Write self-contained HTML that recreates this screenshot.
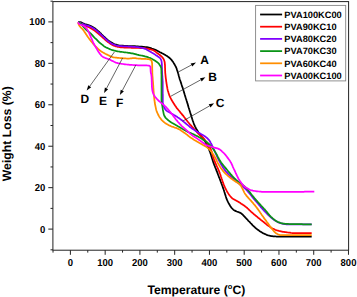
<!DOCTYPE html>
<html><head><meta charset="utf-8"><title>TGA</title>
<style>html,body{margin:0;padding:0;background:#fff}svg{display:block}text{text-rendering:geometricPrecision;font-family:"Liberation Sans",Arial,Helvetica,sans-serif;font-weight:bold;fill:#000}</style></head><body>
<svg width="357" height="297" viewBox="0 0 357 297">
<rect width="357" height="297" fill="#fff"/>
<g fill="none" stroke-width="1.75" stroke-linejoin="round" stroke-linecap="butt">
<path stroke="#000000" d="M78.1,22.0 L79.1,22.1 L80.1,22.2 L81.1,22.4 L82.0,22.8 L82.9,23.2 L83.8,23.7 L84.7,24.0 L85.7,24.3 L86.7,24.6 L87.6,24.9 L88.6,25.1 L89.5,25.5 L90.4,25.9 L91.3,26.3 L92.2,26.8 L93.1,27.3 L93.9,27.8 L94.8,28.3 L95.6,28.9 L96.4,29.6 L97.1,30.2 L97.9,30.9 L98.7,31.5 L99.4,32.2 L100.1,32.9 L100.9,33.5 L101.6,34.3 L102.3,35.0 L103.0,35.7 L103.7,36.4 L104.5,37.0 L105.2,37.7 L105.9,38.4 L106.7,39.1 L107.4,39.7 L108.2,40.4 L109.0,41.0 L109.8,41.5 L110.6,42.1 L111.5,42.6 L112.4,43.1 L113.3,43.6 L114.2,44.0 L115.1,44.3 L116.1,44.6 L117.0,44.9 L118.0,45.2 L119.0,45.4 L120.0,45.5 L121.0,45.6 L122.0,45.7 L123.0,45.7 L124.0,45.8 L125.0,45.9 L126.0,45.9 L127.0,45.9 L128.0,46.0 L129.0,46.0 L130.0,46.0 L131.0,46.1 L132.0,46.1 L133.0,46.1 L134.0,46.2 L135.0,46.2 L136.0,46.3 L137.0,46.3 L138.0,46.4 L139.0,46.5 L140.0,46.5 L141.0,46.6 L142.0,46.7 L143.0,46.8 L144.0,46.9 L145.0,47.0 L145.9,47.1 L146.9,47.2 L147.9,47.4 L148.9,47.6 L149.8,47.8 L150.8,48.1 L151.8,48.5 L152.7,48.8 L153.6,49.2 L154.6,49.5 L155.5,49.9 L156.4,50.3 L157.3,50.7 L158.2,51.2 L159.1,51.7 L160.0,52.2 L160.8,52.6 L161.7,53.1 L162.6,53.5 L163.5,54.0 L164.4,54.5 L165.3,55.0 L166.1,55.5 L167.0,56.0 L167.8,56.6 L168.6,57.2 L169.4,57.8 L170.2,58.5 L170.8,59.2 L171.5,59.9 L172.1,60.7 L172.7,61.5 L173.3,62.3 L173.8,63.2 L174.3,64.0 L174.8,64.9 L175.3,65.8 L175.8,66.7 L176.2,67.6 L176.6,68.5 L176.9,69.5 L177.2,70.4 L177.5,71.3 L177.8,72.3 L178.1,73.3 L178.4,74.2 L178.6,75.2 L178.9,76.2 L179.2,77.1 L179.4,78.1 L179.7,79.1 L180.0,80.0 L180.4,81.0 L180.7,81.9 L181.0,82.9 L181.3,83.8 L181.6,84.8 L181.9,85.7 L182.2,86.7 L182.6,87.6 L182.9,88.6 L183.2,89.5 L183.5,90.5 L183.8,91.4 L184.0,92.4 L184.3,93.3 L184.6,94.3 L184.9,95.2 L185.2,96.2 L185.5,97.2 L185.8,98.1 L186.1,99.1 L186.4,100.0 L186.7,101.0 L187.0,101.9 L187.3,102.9 L187.6,103.9 L187.9,104.8 L188.1,105.8 L188.4,106.7 L188.7,107.7 L189.0,108.6 L189.3,109.6 L189.6,110.5 L189.9,111.5 L190.2,112.5 L190.5,113.4 L190.8,114.4 L191.1,115.3 L191.4,116.3 L191.7,117.2 L192.0,118.2 L192.3,119.2 L192.6,120.1 L192.9,121.1 L193.3,122.0 L193.6,123.0 L193.9,123.9 L194.3,124.8 L194.7,125.7 L195.1,126.6 L195.6,127.5 L196.0,128.4 L196.5,129.3 L197.0,130.1 L197.6,131.0 L198.1,131.8 L198.6,132.7 L199.2,133.5 L199.8,134.3 L200.4,135.1 L201.1,135.9 L201.7,136.7 L202.3,137.4 L202.9,138.2 L203.5,139.0 L204.1,139.9 L204.6,140.7 L205.1,141.6 L205.6,142.4 L206.1,143.3 L206.5,144.2 L207.0,145.1 L207.5,146.0 L207.9,146.9 L208.3,147.8 L208.7,148.7 L209.1,149.7 L209.5,150.6 L209.8,151.5 L210.2,152.4 L210.5,153.4 L210.8,154.3 L211.1,155.3 L211.4,156.2 L211.7,157.2 L212.0,158.2 L212.3,159.1 L212.6,160.1 L212.9,161.0 L213.2,162.0 L213.5,162.9 L213.9,163.9 L214.2,164.8 L214.6,165.7 L215.0,166.7 L215.3,167.6 L215.7,168.5 L216.1,169.4 L216.4,170.4 L216.8,171.3 L217.2,172.2 L217.5,173.2 L217.9,174.1 L218.2,175.0 L218.6,176.0 L218.9,176.9 L219.3,177.8 L219.7,178.8 L220.0,179.7 L220.4,180.6 L220.7,181.6 L221.1,182.5 L221.4,183.5 L221.8,184.4 L222.1,185.3 L222.5,186.3 L222.8,187.2 L223.1,188.2 L223.5,189.1 L223.8,190.1 L224.1,191.0 L224.4,192.0 L224.7,192.9 L225.0,193.9 L225.3,194.9 L225.6,195.8 L225.9,196.8 L226.2,197.7 L226.5,198.7 L226.9,199.6 L227.3,200.5 L227.7,201.4 L228.2,202.3 L228.6,203.2 L229.1,204.1 L229.7,205.0 L230.2,205.9 L230.8,206.8 L231.4,207.6 L232.0,208.3 L232.7,209.0 L233.3,209.6 L234.1,210.2 L234.9,210.6 L235.9,211.1 L236.8,211.5 L237.8,211.8 L238.8,212.2 L239.7,212.6 L240.6,213.1 L241.4,213.6 L242.2,214.2 L242.9,214.9 L243.6,215.6 L244.3,216.4 L245.0,217.1 L245.7,217.9 L246.4,218.6 L247.1,219.3 L247.7,220.0 L248.4,220.8 L249.1,221.5 L249.8,222.2 L250.5,223.0 L251.2,223.7 L251.9,224.4 L252.5,225.1 L253.3,225.9 L254.0,226.5 L254.7,227.2 L255.4,227.9 L256.2,228.5 L257.0,229.1 L257.8,229.8 L258.6,230.3 L259.4,230.9 L260.3,231.5 L261.1,232.0 L262.0,232.6 L262.8,233.1 L263.7,233.5 L264.6,233.9 L265.5,234.3 L266.5,234.8 L267.4,235.1 L268.4,235.5 L269.3,235.7 L270.3,235.9 L271.3,236.1 L272.2,236.2 L273.2,236.3 L274.2,236.3 L275.2,236.4 L276.2,236.5 L277.2,236.5 L278.2,236.6 L279.2,236.6 L280.2,236.7 L281.2,236.7 L282.2,236.7 L283.2,236.7 L284.2,236.7 L285.2,236.7 L286.2,236.7 L287.2,236.7 L288.2,236.7 L289.2,236.7 L290.2,236.7 L291.2,236.7 L292.2,236.7 L293.2,236.7 L294.2,236.7 L295.2,236.7 L296.2,236.7 L297.2,236.7 L298.2,236.7 L299.2,236.7 L300.2,236.7 L301.2,236.7 L302.2,236.7 L303.2,236.7 L304.2,236.7 L305.2,236.7 L306.2,236.7 L307.2,236.7 L308.2,236.7 L309.2,236.7 L310.2,236.7 L311.2,236.7 L311.7,236.7"/>
<path stroke="#ff0000" d="M78.1,22.2 L79.0,22.7 L79.8,23.2 L80.7,23.7 L81.6,24.1 L82.5,24.6 L83.4,25.0 L84.3,25.4 L85.2,25.8 L86.2,26.2 L87.1,26.5 L88.0,26.9 L89.0,27.3 L89.8,27.7 L90.7,28.2 L91.6,28.7 L92.5,29.2 L93.3,29.8 L94.1,30.3 L94.9,30.9 L95.7,31.5 L96.5,32.1 L97.3,32.8 L98.0,33.4 L98.8,34.1 L99.6,34.7 L100.3,35.4 L101.1,36.1 L101.8,36.7 L102.5,37.4 L103.3,38.1 L104.0,38.7 L104.8,39.4 L105.5,40.1 L106.3,40.7 L107.1,41.3 L107.9,42.0 L108.7,42.6 L109.5,43.1 L110.3,43.7 L111.2,44.2 L112.0,44.7 L112.9,45.2 L113.8,45.6 L114.8,46.0 L115.7,46.3 L116.7,46.5 L117.6,46.8 L118.6,47.0 L119.6,47.2 L120.6,47.3 L121.6,47.3 L122.6,47.4 L123.6,47.5 L124.6,47.5 L125.6,47.6 L126.6,47.6 L127.6,47.7 L128.6,47.7 L129.6,47.7 L130.6,47.7 L131.6,47.8 L132.6,47.8 L133.6,47.8 L134.6,47.8 L135.6,47.9 L136.6,47.9 L137.6,47.9 L138.6,47.9 L139.6,48.0 L140.6,48.0 L141.6,48.1 L142.6,48.2 L143.6,48.2 L144.6,48.3 L145.6,48.4 L146.6,48.5 L147.6,48.7 L148.6,48.9 L149.6,49.1 L150.5,49.3 L151.5,49.6 L152.4,49.9 L153.3,50.3 L154.2,50.8 L155.0,51.3 L155.8,51.9 L156.6,52.6 L157.4,53.2 L158.2,53.8 L159.0,54.4 L159.8,55.0 L160.6,55.7 L161.4,56.3 L162.1,57.0 L162.7,57.8 L163.3,58.6 L163.8,59.5 L164.2,60.4 L164.5,61.4 L164.7,62.3 L164.8,63.4 L164.9,64.4 L165.0,65.4 L165.0,66.4 L165.0,67.4 L165.1,68.4 L165.1,69.4 L165.1,70.4 L165.2,71.4 L165.2,72.4 L165.3,73.3 L165.4,74.3 L165.5,75.3 L165.6,76.3 L165.7,77.3 L165.8,78.3 L166.0,79.3 L166.1,80.3 L166.2,81.3 L166.4,82.3 L166.5,83.3 L166.7,84.3 L166.8,85.3 L167.0,86.3 L167.2,87.2 L167.3,88.2 L167.5,89.2 L167.7,90.2 L168.0,91.1 L168.3,92.1 L168.6,93.1 L168.9,94.0 L169.2,94.9 L169.6,95.9 L170.0,96.8 L170.4,97.7 L170.9,98.6 L171.3,99.5 L171.8,100.3 L172.3,101.2 L172.8,102.1 L173.4,102.9 L173.9,103.8 L174.5,104.6 L175.0,105.5 L175.6,106.3 L176.1,107.1 L176.7,107.9 L177.3,108.7 L178.0,109.5 L178.6,110.2 L179.3,111.0 L179.9,111.8 L180.5,112.6 L181.2,113.3 L181.8,114.1 L182.4,114.9 L183.1,115.7 L183.7,116.4 L184.3,117.2 L184.9,118.0 L185.5,118.8 L186.2,119.6 L186.8,120.4 L187.4,121.2 L188.0,122.0 L188.6,122.7 L189.3,123.5 L189.9,124.3 L190.6,125.0 L191.3,125.7 L191.9,126.5 L192.6,127.2 L193.3,128.0 L193.9,128.7 L194.6,129.5 L195.3,130.2 L195.9,131.0 L196.6,131.7 L197.2,132.5 L197.9,133.2 L198.6,133.9 L199.4,134.6 L200.1,135.3 L200.9,135.9 L201.6,136.6 L202.4,137.2 L203.1,137.9 L203.8,138.7 L204.4,139.4 L205.0,140.2 L205.7,141.0 L206.3,141.8 L206.9,142.6 L207.5,143.4 L208.1,144.2 L208.6,145.1 L209.2,146.0 L209.7,146.8 L210.1,147.7 L210.5,148.6 L210.9,149.5 L211.2,150.4 L211.6,151.3 L211.9,152.3 L212.2,153.2 L212.5,154.2 L212.7,155.2 L213.0,156.2 L213.3,157.1 L213.6,158.1 L213.9,159.1 L214.2,160.0 L214.6,160.9 L214.9,161.9 L215.3,162.8 L215.7,163.7 L216.1,164.6 L216.5,165.5 L216.9,166.4 L217.4,167.4 L217.8,168.3 L218.2,169.2 L218.6,170.1 L219.0,171.0 L219.3,171.9 L219.7,172.9 L220.0,173.8 L220.4,174.8 L220.7,175.7 L221.0,176.7 L221.3,177.6 L221.6,178.6 L222.0,179.5 L222.3,180.5 L222.6,181.4 L222.9,182.4 L223.3,183.3 L223.6,184.3 L224.0,185.2 L224.4,186.1 L224.8,187.0 L225.2,187.9 L225.7,188.8 L226.1,189.7 L226.6,190.7 L227.1,191.6 L227.6,192.5 L228.2,193.3 L228.7,194.2 L229.3,195.0 L229.9,195.8 L230.5,196.5 L231.1,197.2 L231.8,197.9 L232.5,198.5 L233.3,199.0 L234.2,199.5 L235.1,200.0 L236.0,200.5 L236.9,201.0 L237.8,201.5 L238.7,202.0 L239.5,202.6 L240.4,203.1 L241.2,203.7 L242.1,204.2 L242.9,204.8 L243.7,205.3 L244.5,205.9 L245.3,206.5 L246.1,207.1 L246.9,207.7 L247.6,208.4 L248.4,209.1 L249.1,209.8 L249.8,210.5 L250.5,211.2 L251.2,211.9 L252.0,212.5 L252.8,213.2 L253.5,213.8 L254.3,214.5 L255.1,215.1 L255.8,215.8 L256.6,216.4 L257.4,217.0 L258.1,217.7 L258.9,218.3 L259.7,218.9 L260.5,219.6 L261.3,220.2 L262.0,220.8 L262.8,221.4 L263.6,222.0 L264.4,222.7 L265.2,223.3 L265.9,223.9 L266.7,224.6 L267.5,225.2 L268.3,225.7 L269.2,226.3 L270.0,226.9 L270.8,227.4 L271.7,228.0 L272.5,228.5 L273.4,228.9 L274.3,229.3 L275.2,229.7 L276.2,230.1 L277.1,230.4 L278.1,230.7 L279.1,231.0 L280.0,231.2 L281.0,231.4 L282.0,231.6 L283.0,231.8 L284.0,231.9 L285.0,232.1 L286.0,232.2 L286.9,232.3 L287.9,232.5 L288.9,232.6 L289.9,232.7 L290.9,232.9 L291.9,233.0 L292.9,233.0 L293.9,233.1 L294.9,233.1 L295.9,233.1 L296.9,233.1 L297.9,233.1 L298.9,233.1 L299.9,233.1 L300.9,233.1 L301.9,233.1 L302.9,233.1 L303.9,233.1 L304.9,233.1 L305.9,233.1 L306.9,233.1 L307.9,233.1 L308.9,233.1 L309.9,233.1 L310.9,233.1 L311.7,233.1"/>
<path stroke="#8000ff" d="M78.1,22.0 L79.0,22.4 L79.9,22.8 L80.8,23.2 L81.8,23.6 L82.7,24.0 L83.6,24.4 L84.6,24.7 L85.5,25.0 L86.5,25.3 L87.4,25.6 L88.4,25.9 L89.3,26.2 L90.2,26.6 L91.1,27.1 L92.0,27.6 L92.9,28.1 L93.7,28.6 L94.6,29.1 L95.4,29.7 L96.2,30.3 L96.9,30.9 L97.7,31.6 L98.5,32.3 L99.2,32.9 L100.0,33.6 L100.7,34.3 L101.4,35.0 L102.1,35.7 L102.9,36.3 L103.6,37.0 L104.3,37.7 L105.1,38.4 L105.8,39.1 L106.5,39.8 L107.3,40.4 L108.1,41.1 L108.8,41.7 L109.7,42.2 L110.5,42.8 L111.3,43.4 L112.2,43.9 L113.1,44.3 L114.0,44.7 L115.0,45.0 L115.9,45.3 L116.9,45.6 L117.9,45.8 L118.9,46.0 L119.9,46.1 L120.8,46.2 L121.8,46.2 L122.8,46.3 L123.8,46.3 L124.8,46.3 L125.8,46.4 L126.8,46.4 L127.8,46.5 L128.8,46.5 L129.8,46.6 L130.8,46.6 L131.8,46.7 L132.8,46.8 L133.8,46.8 L134.8,46.9 L135.8,47.0 L136.8,47.1 L137.8,47.2 L138.8,47.3 L139.8,47.5 L140.8,47.7 L141.8,47.9 L142.8,48.1 L143.7,48.4 L144.7,48.7 L145.6,49.0 L146.5,49.4 L147.3,49.9 L148.2,50.4 L149.1,51.0 L149.9,51.5 L150.8,52.0 L151.7,52.6 L152.5,53.1 L153.4,53.6 L154.2,54.1 L155.1,54.6 L155.9,55.2 L156.8,55.7 L157.6,56.3 L158.5,56.9 L159.3,57.5 L160.1,58.1 L160.6,58.9 L161.0,59.7 L161.4,60.7 L161.6,61.7 L161.7,62.7 L161.8,63.7 L161.9,64.7 L161.9,65.7 L161.9,66.7 L162.0,67.7 L162.0,68.7 L162.0,69.7 L162.0,70.7 L162.1,71.7 L162.1,72.7 L162.2,73.7 L162.2,74.7 L162.3,75.7 L162.4,76.7 L162.4,77.7 L162.5,78.7 L162.6,79.7 L162.6,80.7 L162.7,81.7 L162.7,82.7 L162.7,83.7 L162.7,84.7 L162.7,85.7 L162.7,86.7 L162.7,87.7 L162.7,88.7 L162.7,89.7 L162.7,90.7 L162.7,91.7 L162.7,92.7 L162.7,93.7 L162.8,94.7 L162.8,95.7 L162.8,96.7 L162.8,97.7 L162.8,98.7 L162.8,99.7 L162.8,100.7 L162.8,101.7 L162.9,102.7 L163.1,103.7 L163.3,104.8 L163.6,105.8 L164.0,106.8 L164.4,107.7 L164.8,108.5 L165.2,109.3 L165.8,110.0 L166.5,110.6 L167.3,111.2 L168.3,111.8 L169.2,112.3 L170.1,112.8 L170.9,113.4 L171.8,113.8 L172.7,114.3 L173.6,114.8 L174.5,115.2 L175.3,115.7 L176.2,116.3 L177.0,116.8 L177.8,117.4 L178.7,117.9 L179.5,118.5 L180.3,119.1 L181.1,119.7 L181.9,120.3 L182.7,120.9 L183.5,121.6 L184.2,122.2 L185.0,122.8 L185.8,123.5 L186.5,124.1 L187.3,124.7 L188.1,125.4 L188.9,126.0 L189.6,126.7 L190.4,127.3 L191.2,127.9 L192.0,128.5 L192.8,129.1 L193.6,129.6 L194.5,130.1 L195.4,130.7 L196.2,131.2 L197.1,131.7 L197.9,132.2 L198.8,132.7 L199.7,133.2 L200.6,133.7 L201.4,134.2 L202.3,134.7 L203.1,135.2 L204.0,135.8 L204.8,136.3 L205.6,136.9 L206.4,137.5 L207.2,138.2 L207.9,138.9 L208.6,139.6 L209.2,140.3 L209.7,141.1 L210.3,142.0 L210.7,142.8 L211.2,143.7 L211.7,144.7 L212.1,145.6 L212.5,146.5 L213.0,147.4 L213.4,148.3 L213.9,149.2 L214.3,150.1 L214.7,151.0 L215.1,152.0 L215.5,152.9 L215.9,153.8 L216.3,154.7 L216.7,155.6 L217.1,156.6 L217.5,157.5 L217.9,158.4 L218.4,159.3 L218.8,160.1 L219.3,161.0 L219.8,161.9 L220.3,162.8 L220.7,163.7 L221.2,164.6 L221.8,165.4 L222.3,166.3 L222.8,167.2 L223.3,168.0 L223.9,168.8 L224.5,169.6 L225.1,170.4 L225.7,171.2 L226.3,171.9 L227.0,172.7 L227.6,173.4 L228.3,174.1 L229.0,174.8 L229.8,175.5 L230.5,176.2 L231.2,176.9 L232.0,177.6 L232.8,178.2 L233.5,178.9 L234.3,179.6 L235.0,180.3 L235.8,180.9 L236.5,181.6 L237.3,182.2 L238.1,182.8 L238.9,183.5 L239.6,184.1 L240.4,184.7 L241.2,185.3 L242.0,185.9 L242.8,186.6 L243.6,187.2 L244.3,187.9 L245.0,188.5 L245.7,189.2 L246.4,189.9 L247.1,190.7 L247.8,191.4 L248.4,192.2 L249.1,192.9 L249.7,193.7 L250.4,194.5 L251.0,195.2 L251.6,196.0 L252.2,196.8 L252.9,197.6 L253.5,198.4 L254.1,199.2 L254.8,199.9 L255.4,200.7 L256.1,201.5 L256.7,202.2 L257.4,203.0 L258.0,203.7 L258.7,204.5 L259.3,205.3 L260.0,206.0 L260.6,206.8 L261.3,207.6 L261.9,208.3 L262.6,209.1 L263.3,209.8 L263.9,210.5 L264.6,211.3 L265.3,212.0 L266.0,212.7 L266.7,213.4 L267.4,214.1 L268.1,214.8 L268.8,215.5 L269.6,216.2 L270.3,216.9 L271.1,217.6 L271.9,218.2 L272.6,218.8 L273.4,219.4 L274.3,219.9 L275.1,220.5 L276.0,221.1 L276.8,221.6 L277.7,222.1 L278.6,222.5 L279.6,222.9 L280.5,223.1 L281.4,223.4 L282.4,223.6 L283.4,223.9 L284.4,224.1 L285.4,224.2 L286.4,224.3 L287.4,224.3 L288.4,224.3 L289.4,224.3 L290.4,224.3 L291.4,224.3 L292.4,224.3 L293.3,224.3 L294.3,224.3 L295.3,224.3 L296.3,224.3 L297.3,224.3 L298.3,224.3 L299.3,224.3 L300.3,224.3 L301.3,224.3 L302.3,224.3 L303.3,224.3 L304.3,224.3 L305.3,224.3 L306.3,224.3 L307.4,224.3 L308.4,224.3 L309.4,224.3 L310.4,224.3 L311.4,224.3 L311.7,224.3"/>
<path stroke="#0a9416" d="M78.1,22.2 L79.0,22.6 L79.9,23.1 L80.7,23.7 L81.5,24.3 L82.1,25.1 L82.7,25.9 L83.3,26.7 L83.9,27.5 L84.6,28.2 L85.3,28.9 L86.0,29.6 L86.8,30.3 L87.5,31.0 L88.3,31.6 L89.1,32.2 L89.9,32.8 L90.6,33.5 L91.4,34.2 L92.0,34.9 L92.7,35.7 L93.3,36.4 L94.0,37.2 L94.7,37.9 L95.5,38.6 L96.2,39.2 L96.9,39.9 L97.6,40.6 L98.3,41.4 L99.0,42.1 L99.7,42.8 L100.5,43.4 L101.3,44.0 L102.1,44.6 L102.9,45.2 L103.6,45.9 L104.4,46.5 L105.3,47.0 L106.2,47.5 L107.1,47.9 L108.0,48.3 L108.9,48.7 L109.8,49.1 L110.8,49.5 L111.7,49.8 L112.7,50.1 L113.6,50.4 L114.6,50.6 L115.6,50.9 L116.5,51.1 L117.5,51.3 L118.5,51.5 L119.5,51.6 L120.5,51.8 L121.5,51.9 L122.5,52.0 L123.5,52.2 L124.5,52.3 L125.4,52.4 L126.4,52.5 L127.4,52.6 L128.4,52.8 L129.4,52.9 L130.4,53.1 L131.4,53.3 L132.4,53.4 L133.4,53.6 L134.3,53.8 L135.3,54.1 L136.3,54.4 L137.2,54.7 L138.2,54.9 L139.1,55.2 L140.1,55.3 L141.1,55.5 L142.1,55.7 L143.1,55.9 L144.1,56.1 L145.0,56.4 L146.0,56.6 L147.0,56.9 L147.9,57.2 L148.8,57.6 L149.8,57.9 L150.7,58.3 L151.6,58.7 L152.5,59.2 L153.4,59.7 L154.3,60.2 L155.1,60.7 L155.9,61.3 L156.8,61.9 L157.6,62.5 L158.3,63.2 L159.0,63.9 L159.5,64.7 L160.1,65.6 L160.6,66.5 L161.0,67.4 L161.3,68.4 L161.3,69.3 L161.4,70.3 L161.4,71.3 L161.4,72.3 L161.4,73.3 L161.5,74.3 L161.5,75.3 L161.5,76.3 L161.5,77.3 L161.5,78.3 L161.5,79.3 L161.5,80.3 L161.5,81.3 L161.5,82.3 L161.5,83.4 L161.5,84.4 L161.5,85.4 L161.5,86.4 L161.5,87.4 L161.5,88.4 L161.5,89.4 L161.5,90.4 L161.5,91.4 L161.5,92.4 L161.5,93.4 L161.5,94.4 L161.5,95.4 L161.5,96.4 L161.5,97.4 L161.5,98.4 L161.5,99.4 L161.5,100.3 L161.6,101.3 L161.7,102.3 L161.9,103.3 L162.0,104.3 L162.2,105.3 L162.4,106.3 L162.5,107.3 L162.7,108.3 L162.8,109.4 L163.0,110.4 L163.2,111.4 L163.4,112.4 L163.6,113.4 L163.8,114.3 L164.1,115.2 L164.5,116.0 L164.9,116.8 L165.5,117.6 L166.2,118.4 L167.0,119.1 L167.8,119.8 L168.6,120.5 L169.4,121.1 L170.2,121.7 L171.0,122.3 L171.8,122.8 L172.7,123.3 L173.6,123.8 L174.5,124.3 L175.4,124.8 L176.2,125.3 L177.1,125.8 L177.9,126.3 L178.8,126.8 L179.7,127.3 L180.5,127.8 L181.4,128.3 L182.2,128.8 L183.1,129.3 L184.0,129.8 L184.8,130.3 L185.7,130.8 L186.6,131.3 L187.5,131.7 L188.4,132.1 L189.3,132.5 L190.3,132.9 L191.2,133.3 L192.1,133.7 L193.0,134.1 L193.9,134.5 L194.8,134.9 L195.7,135.4 L196.6,135.9 L197.5,136.3 L198.4,136.8 L199.2,137.3 L200.1,137.8 L201.0,138.3 L201.8,138.8 L202.7,139.4 L203.5,139.9 L204.3,140.5 L205.1,141.1 L206.0,141.6 L206.8,142.2 L207.6,142.8 L208.4,143.5 L209.2,144.1 L209.9,144.8 L210.6,145.5 L211.2,146.2 L211.8,147.0 L212.4,147.8 L213.0,148.6 L213.5,149.5 L214.1,150.3 L214.6,151.2 L215.2,152.0 L215.7,152.9 L216.2,153.7 L216.7,154.6 L217.2,155.5 L217.6,156.4 L218.1,157.3 L218.6,158.2 L219.0,159.0 L219.5,159.9 L220.0,160.8 L220.6,161.6 L221.1,162.4 L221.7,163.2 L222.3,164.0 L222.9,164.8 L223.5,165.6 L224.2,166.4 L224.8,167.2 L225.5,167.9 L226.1,168.7 L226.8,169.5 L227.4,170.2 L228.0,171.0 L228.7,171.8 L229.3,172.5 L230.0,173.3 L230.6,174.1 L231.3,174.8 L231.9,175.6 L232.6,176.3 L233.3,177.1 L234.0,177.8 L234.7,178.5 L235.4,179.2 L236.1,179.9 L236.9,180.5 L237.7,181.1 L238.4,181.7 L239.3,182.3 L240.1,182.9 L240.9,183.5 L241.7,184.1 L242.5,184.7 L243.3,185.4 L244.1,186.0 L244.8,186.6 L245.5,187.3 L246.2,188.0 L246.9,188.7 L247.6,189.5 L248.2,190.2 L248.8,191.0 L249.5,191.8 L250.1,192.6 L250.7,193.4 L251.3,194.2 L251.9,195.0 L252.6,195.8 L253.2,196.5 L253.8,197.3 L254.4,198.1 L255.1,198.9 L255.7,199.6 L256.4,200.4 L257.1,201.1 L257.7,201.9 L258.4,202.6 L259.1,203.4 L259.8,204.1 L260.4,204.8 L261.1,205.6 L261.8,206.3 L262.5,207.0 L263.2,207.8 L263.8,208.5 L264.5,209.2 L265.2,210.0 L265.8,210.7 L266.5,211.5 L267.1,212.3 L267.7,213.1 L268.3,213.9 L269.0,214.7 L269.6,215.4 L270.3,216.1 L271.0,216.8 L271.8,217.5 L272.5,218.2 L273.3,218.9 L274.1,219.5 L274.9,220.2 L275.7,220.7 L276.6,221.2 L277.4,221.7 L278.3,222.1 L279.2,222.4 L280.2,222.8 L281.1,223.1 L282.1,223.3 L283.1,223.6 L284.1,223.7 L285.1,223.8 L286.1,223.8 L287.1,223.9 L288.0,223.9 L289.0,224.0 L290.0,224.0 L291.0,224.0 L292.0,224.0 L293.0,224.1 L294.0,224.1 L295.0,224.1 L296.0,224.1 L296.9,224.2 L297.9,224.2 L298.9,224.2 L299.9,224.2 L300.9,224.2 L301.9,224.2 L303.0,224.3 L304.0,224.3 L305.0,224.3 L306.0,224.3 L307.0,224.3 L308.0,224.3 L309.0,224.3 L310.1,224.3 L311.1,224.3 L311.7,224.3"/>
<path stroke="#ff8e00" d="M78.1,22.5 L78.3,23.5 L78.7,24.4 L79.1,25.3 L79.6,26.1 L80.3,26.8 L81.0,27.6 L81.7,28.3 L82.4,29.0 L83.1,29.8 L83.7,30.6 L84.2,31.4 L84.8,32.3 L85.3,33.1 L85.9,34.0 L86.4,34.8 L87.0,35.6 L87.5,36.5 L88.1,37.3 L88.7,38.1 L89.3,38.9 L89.9,39.7 L90.5,40.5 L91.1,41.3 L91.8,42.0 L92.4,42.8 L93.0,43.6 L93.7,44.3 L94.4,45.1 L95.0,45.8 L95.7,46.5 L96.4,47.2 L97.2,48.0 L97.9,48.7 L98.6,49.3 L99.4,50.0 L100.2,50.6 L100.9,51.2 L101.8,51.8 L102.6,52.3 L103.5,52.8 L104.4,53.3 L105.3,53.8 L106.2,54.2 L107.1,54.6 L108.0,55.1 L108.9,55.5 L109.8,55.9 L110.7,56.4 L111.6,56.7 L112.6,57.1 L113.5,57.3 L114.5,57.5 L115.5,57.6 L116.5,57.7 L117.5,57.8 L118.5,57.9 L119.5,58.0 L120.5,58.1 L121.5,58.1 L122.5,58.2 L123.5,58.3 L124.5,58.4 L125.5,58.4 L126.5,58.5 L127.5,58.5 L128.5,58.5 L129.5,58.5 L130.5,58.4 L131.5,58.3 L132.5,58.2 L133.5,58.1 L134.5,58.1 L135.5,58.1 L136.4,58.3 L137.4,58.5 L138.4,58.6 L139.4,58.7 L140.4,58.7 L141.4,58.8 L142.4,58.8 L143.4,58.8 L144.4,58.9 L145.4,58.9 L146.4,59.0 L147.5,59.1 L148.5,59.2 L149.4,59.3 L150.4,59.6 L151.2,60.2 L151.6,61.0 L151.9,62.0 L152.1,63.1 L152.1,64.1 L152.2,65.0 L152.2,66.0 L152.2,67.0 L152.2,68.0 L152.2,69.1 L152.3,70.1 L152.3,71.1 L152.3,72.1 L152.3,73.1 L152.4,74.1 L152.4,75.1 L152.5,76.1 L152.6,77.1 L152.7,78.0 L152.7,79.0 L152.8,80.0 L152.9,81.0 L153.0,82.0 L153.1,83.0 L153.1,84.0 L153.2,85.0 L153.3,86.0 L153.3,87.0 L153.4,88.0 L153.5,89.0 L153.5,90.0 L153.6,91.0 L153.7,92.0 L153.7,93.0 L153.8,94.0 L153.9,95.0 L154.0,96.0 L154.1,97.0 L154.2,98.0 L154.3,99.0 L154.4,100.0 L154.6,101.0 L154.7,102.0 L154.8,103.0 L155.0,104.0 L155.2,105.0 L155.4,106.0 L155.6,106.9 L155.8,107.9 L156.0,108.9 L156.2,109.8 L156.5,110.8 L156.9,111.7 L157.2,112.7 L157.7,113.6 L158.1,114.5 L158.6,115.5 L159.1,116.4 L159.6,117.2 L160.2,118.0 L160.8,118.8 L161.3,119.6 L162.0,120.3 L162.7,121.0 L163.4,121.6 L164.2,122.3 L165.0,122.9 L165.9,123.5 L166.7,124.1 L167.6,124.6 L168.5,125.1 L169.4,125.5 L170.3,125.9 L171.2,126.3 L172.1,126.6 L173.1,126.9 L174.1,127.3 L175.0,127.6 L176.0,127.9 L176.9,128.3 L177.8,128.7 L178.7,129.1 L179.5,129.6 L180.4,130.1 L181.3,130.7 L182.1,131.2 L182.9,131.8 L183.8,132.4 L184.6,132.9 L185.4,133.5 L186.2,134.1 L187.0,134.7 L187.8,135.4 L188.5,136.0 L189.3,136.6 L190.1,137.2 L190.9,137.8 L191.8,138.3 L192.6,138.8 L193.5,139.4 L194.3,139.9 L195.2,140.4 L196.1,140.9 L196.9,141.4 L197.8,141.9 L198.7,142.4 L199.5,142.9 L200.4,143.4 L201.3,143.9 L202.2,144.4 L203.0,144.9 L203.9,145.4 L204.8,145.9 L205.7,146.4 L206.5,147.0 L207.3,147.5 L208.1,148.1 L208.8,148.8 L209.5,149.5 L210.1,150.2 L210.8,151.0 L211.4,151.8 L212.0,152.6 L212.6,153.5 L213.1,154.3 L213.7,155.1 L214.2,156.0 L214.7,156.8 L215.2,157.7 L215.7,158.6 L216.2,159.5 L216.6,160.4 L217.0,161.3 L217.5,162.2 L217.9,163.1 L218.4,164.0 L218.9,164.8 L219.4,165.7 L219.9,166.5 L220.5,167.4 L221.0,168.2 L221.6,169.0 L222.2,169.8 L222.8,170.6 L223.5,171.4 L224.1,172.1 L224.8,172.8 L225.5,173.6 L226.3,174.3 L227.0,174.9 L227.7,175.6 L228.5,176.3 L229.2,176.9 L230.0,177.6 L230.8,178.2 L231.6,178.8 L232.4,179.4 L233.2,180.0 L234.0,180.6 L234.8,181.1 L235.7,181.7 L236.6,182.2 L237.5,182.7 L238.4,183.2 L239.1,183.8 L239.8,184.4 L240.4,185.1 L241.0,185.9 L241.5,186.8 L241.9,187.6 L242.4,188.5 L242.9,189.5 L243.3,190.4 L243.8,191.4 L244.2,192.3 L244.7,193.2 L245.2,194.0 L245.8,194.8 L246.4,195.6 L247.0,196.4 L247.7,197.2 L248.3,197.9 L249.0,198.7 L249.7,199.4 L250.4,200.1 L251.1,200.9 L251.7,201.6 L252.4,202.4 L253.1,203.1 L253.7,203.9 L254.3,204.7 L255.0,205.4 L255.6,206.2 L256.2,207.0 L256.8,207.8 L257.4,208.6 L258.0,209.4 L258.6,210.2 L259.2,211.0 L259.8,211.9 L260.3,212.7 L260.9,213.5 L261.4,214.3 L262.0,215.2 L262.6,216.0 L263.2,216.8 L263.7,217.6 L264.3,218.4 L264.9,219.2 L265.5,220.0 L266.1,220.8 L266.7,221.7 L267.3,222.5 L267.9,223.3 L268.4,224.1 L269.0,224.9 L269.6,225.7 L270.2,226.5 L270.8,227.3 L271.4,228.1 L272.0,228.9 L272.7,229.7 L273.3,230.5 L274.0,231.3 L274.6,232.0 L275.4,232.7 L276.1,233.2 L277.0,233.8 L277.9,234.3 L278.9,234.7 L279.8,235.0 L280.8,235.0 L281.7,235.0 L282.7,235.0 L283.7,235.0 L284.7,235.0 L285.7,235.0 L286.7,235.0 L287.7,235.0 L288.7,235.0 L289.7,235.0 L290.8,235.0 L291.8,235.0 L292.8,235.0 L293.8,235.0 L294.8,235.0 L295.8,235.0 L296.8,235.0 L297.8,235.0 L298.8,235.0 L299.8,235.0 L300.8,235.0 L301.8,235.0 L302.8,235.0 L303.8,235.0 L304.8,235.0 L305.8,235.0 L306.8,235.0 L307.8,235.0 L308.8,235.0 L309.8,235.0 L310.8,235.0 L311.7,235.0"/>
<path stroke="#ff00ff" d="M78.1,22.2 L78.5,23.2 L79.0,23.8 L79.8,24.3 L80.8,24.7 L81.8,25.1 L82.8,25.5 L83.7,25.9 L84.5,26.5 L85.3,27.2 L86.0,27.9 L86.7,28.6 L87.2,29.4 L87.7,30.3 L88.2,31.1 L88.7,32.0 L89.1,33.0 L89.5,33.9 L89.9,34.8 L90.3,35.7 L90.7,36.6 L91.1,37.6 L91.5,38.5 L91.9,39.4 L92.3,40.3 L92.7,41.3 L93.1,42.2 L93.5,43.1 L94.0,44.0 L94.4,44.8 L94.9,45.7 L95.4,46.6 L95.9,47.5 L96.4,48.3 L96.9,49.2 L97.4,50.1 L97.9,50.9 L98.4,51.8 L99.0,52.6 L99.6,53.4 L100.2,54.2 L100.9,55.0 L101.6,55.8 L102.3,56.4 L103.1,57.0 L103.9,57.4 L104.8,57.8 L105.7,58.2 L106.7,58.5 L107.7,58.8 L108.7,59.2 L109.6,59.5 L110.5,59.9 L111.4,60.4 L112.3,60.9 L113.2,61.3 L114.1,61.8 L115.0,62.2 L115.9,62.6 L116.9,62.8 L117.8,63.1 L118.8,63.3 L119.8,63.5 L120.8,63.7 L121.8,63.8 L122.8,64.0 L123.8,64.1 L124.8,64.3 L125.8,64.4 L126.7,64.5 L127.7,64.6 L128.7,64.7 L129.7,64.8 L130.7,64.9 L131.7,64.9 L132.7,65.0 L133.7,65.1 L134.7,65.1 L135.7,65.2 L136.7,65.2 L137.7,65.3 L138.7,65.3 L139.7,65.3 L140.7,65.3 L141.7,65.4 L142.8,65.4 L143.8,65.4 L144.8,65.4 L145.8,65.4 L146.8,65.4 L147.7,65.5 L148.7,65.5 L149.7,65.9 L150.2,66.6 L150.5,67.6 L150.5,68.6 L150.6,69.6 L150.6,70.6 L150.7,71.6 L150.8,72.6 L151.0,73.6 L151.3,74.6 L151.4,75.6 L151.5,76.5 L151.6,77.5 L151.6,78.5 L151.7,79.5 L151.7,80.5 L151.7,81.5 L151.8,82.6 L151.8,83.6 L151.8,84.6 L151.9,85.6 L151.9,86.6 L152.0,87.6 L152.1,88.5 L152.2,89.5 L152.4,90.5 L152.6,91.5 L152.9,92.5 L153.2,93.4 L153.6,94.3 L154.1,95.2 L154.6,96.0 L155.2,96.9 L155.8,97.7 L156.5,98.5 L157.1,99.2 L157.8,99.9 L158.5,100.6 L159.2,101.3 L160.0,101.9 L160.8,102.6 L161.6,103.2 L162.4,103.8 L163.2,104.5 L163.9,105.1 L164.7,105.8 L165.4,106.5 L166.1,107.2 L166.8,107.9 L167.4,108.7 L168.1,109.4 L168.7,110.2 L169.4,110.9 L170.0,111.7 L170.7,112.5 L171.3,113.3 L171.9,114.1 L172.5,114.8 L173.1,115.6 L173.7,116.4 L174.3,117.3 L174.9,118.1 L175.5,118.9 L176.1,119.7 L176.7,120.4 L177.4,121.2 L178.0,122.0 L178.7,122.7 L179.4,123.5 L180.0,124.2 L180.7,124.9 L181.4,125.6 L182.1,126.3 L182.9,127.0 L183.6,127.7 L184.4,128.3 L185.1,129.0 L185.9,129.7 L186.6,130.3 L187.4,131.0 L188.1,131.7 L188.8,132.4 L189.6,133.1 L190.3,133.8 L191.0,134.4 L191.8,135.0 L192.6,135.6 L193.4,136.2 L194.3,136.7 L195.1,137.2 L196.0,137.8 L196.8,138.3 L197.6,138.9 L198.4,139.5 L199.3,140.1 L200.1,140.6 L200.9,141.2 L201.7,141.8 L202.5,142.4 L203.4,143.0 L204.2,143.6 L205.0,144.2 L205.8,144.7 L206.7,145.2 L207.6,145.6 L208.5,145.9 L209.5,146.2 L210.5,146.5 L211.4,146.7 L212.4,147.0 L213.4,147.3 L214.3,147.5 L215.3,147.8 L216.3,148.1 L217.3,148.4 L218.2,148.7 L219.0,149.1 L219.9,149.6 L220.7,150.2 L221.5,150.9 L222.2,151.6 L223.0,152.3 L223.7,153.0 L224.4,153.7 L225.0,154.4 L225.7,155.2 L226.3,156.0 L226.9,156.8 L227.5,157.6 L228.1,158.4 L228.7,159.2 L229.3,160.0 L229.9,160.8 L230.4,161.7 L230.9,162.5 L231.4,163.4 L231.8,164.3 L232.2,165.2 L232.6,166.1 L233.0,167.1 L233.4,168.0 L233.8,168.9 L234.3,169.8 L234.7,170.7 L235.1,171.6 L235.5,172.5 L235.9,173.5 L236.4,174.4 L236.8,175.3 L237.2,176.2 L237.7,177.1 L238.1,178.0 L238.6,178.9 L239.1,179.7 L239.6,180.5 L240.2,181.4 L240.8,182.2 L241.4,183.1 L242.0,183.9 L242.7,184.7 L243.3,185.4 L244.1,186.1 L244.8,186.8 L245.5,187.3 L246.3,187.8 L247.2,188.3 L248.1,188.8 L249.0,189.3 L249.9,189.7 L250.9,190.1 L251.9,190.4 L252.9,190.7 L253.8,190.8 L254.8,191.0 L255.8,191.1 L256.7,191.3 L257.7,191.4 L258.7,191.5 L259.8,191.6 L260.8,191.7 L261.8,191.8 L262.8,191.8 L263.8,191.8 L264.8,191.8 L265.8,191.8 L266.8,191.8 L267.8,191.8 L268.8,191.8 L269.8,191.8 L270.8,191.8 L271.8,191.8 L272.7,191.8 L273.7,191.8 L274.7,191.8 L275.7,191.8 L276.7,191.8 L277.7,191.8 L278.7,191.8 L279.7,191.8 L280.7,191.8 L281.7,191.8 L282.7,191.8 L283.7,191.8 L284.7,191.8 L285.7,191.8 L286.7,191.8 L287.7,191.8 L288.7,191.8 L289.7,191.8 L290.7,191.8 L291.7,191.8 L292.7,191.8 L293.7,191.8 L294.7,191.8 L295.7,191.8 L296.7,191.8 L297.7,191.8 L298.7,191.8 L299.7,191.8 L300.7,191.8 L301.7,191.8 L302.7,191.8 L303.7,191.8 L304.7,191.7 L305.7,191.7 L306.7,191.7 L307.8,191.7 L308.8,191.7 L309.8,191.7 L310.8,191.7 L311.8,191.7 L312.8,191.7 L313.8,191.7 L314.3,191.7"/>
</g>
<g stroke="#222" stroke-width="1" fill="none">
<rect x="52.9" y="1.6" width="295.70000000000005" height="248.6"/>
<path d="M53.02,250.2v2.4M70.40,250.2v4.6M87.78,250.2v2.4M105.16,250.2v4.6M122.54,250.2v2.4M139.92,250.2v4.6M157.30,250.2v2.4M174.68,250.2v4.6M192.06,250.2v2.4M209.44,250.2v4.6M226.82,250.2v2.4M244.20,250.2v4.6M261.58,250.2v2.4M278.96,250.2v4.6M296.34,250.2v2.4M313.72,250.2v4.6M331.10,250.2v2.4M348.48,250.2v4.6M52.9,249.82h-2.4M52.9,229.10h-4.6M52.9,208.38h-2.4M52.9,187.66h-4.6M52.9,166.94h-2.4M52.9,146.22h-4.6M52.9,125.50h-2.4M52.9,104.78h-4.6M52.9,84.06h-2.4M52.9,63.34h-4.6M52.9,42.62h-2.4M52.9,21.90h-4.6M52.9,1.18h-2.4"/>
</g>
<g font-size="10">
<text transform="translate(70.4,266.1) scale(0.95,1)" text-anchor="middle">0</text>
<text transform="translate(105.2,266.1) scale(0.95,1)" text-anchor="middle">100</text>
<text transform="translate(139.9,266.1) scale(0.95,1)" text-anchor="middle">200</text>
<text transform="translate(174.7,266.1) scale(0.95,1)" text-anchor="middle">300</text>
<text transform="translate(209.4,266.1) scale(0.95,1)" text-anchor="middle">400</text>
<text transform="translate(244.2,266.1) scale(0.95,1)" text-anchor="middle">500</text>
<text transform="translate(279.0,266.1) scale(0.95,1)" text-anchor="middle">600</text>
<text transform="translate(313.7,266.1) scale(0.95,1)" text-anchor="middle">700</text>
<text transform="translate(348.5,266.1) scale(0.95,1)" text-anchor="middle">800</text>
<text transform="translate(45.2,232.6) scale(0.95,1)" text-anchor="end">0</text>
<text transform="translate(45.2,191.2) scale(0.95,1)" text-anchor="end">20</text>
<text transform="translate(45.2,149.7) scale(0.95,1)" text-anchor="end">40</text>
<text transform="translate(45.2,108.3) scale(0.95,1)" text-anchor="end">60</text>
<text transform="translate(45.2,66.8) scale(0.95,1)" text-anchor="end">80</text>
<text transform="translate(45.2,25.4) scale(0.95,1)" text-anchor="end">100</text>
</g>
<text font-size="12.2" x="196.4" y="293.6" text-anchor="middle">Temperature (<tspan font-size="7.5" dy="-4.5">o</tspan><tspan dy="4.5">C)</tspan></text>
<text font-size="12.25" transform="translate(10.8,133.7) rotate(-90)" text-anchor="middle">Weight Loss (%)</text>
<rect x="255.6" y="5.4" width="90.1" height="75.5" fill="#fff" stroke="#858585" stroke-width="0.9"/>
<path d="M260.1,14.5H282.1" stroke="#000000" stroke-width="1.75" fill="none"/>
<text font-size="9.25" x="284.3" y="17.7">PVA100KC00</text>
<path d="M260.1,26.7H282.1" stroke="#ff0000" stroke-width="1.75" fill="none"/>
<text font-size="9.25" x="284.3" y="29.9">PVA90KC10</text>
<path d="M260.1,38.9H282.1" stroke="#8000ff" stroke-width="1.75" fill="none"/>
<text font-size="9.25" x="284.3" y="42.1">PVA80KC20</text>
<path d="M260.1,51.1H282.1" stroke="#0a9416" stroke-width="1.75" fill="none"/>
<text font-size="9.25" x="284.3" y="54.3">PVA70KC30</text>
<path d="M260.1,63.3H282.1" stroke="#ff8e00" stroke-width="1.75" fill="none"/>
<text font-size="9.25" x="284.3" y="66.5">PVA60KC40</text>
<path d="M260.1,75.5H282.1" stroke="#ff00ff" stroke-width="1.75" fill="none"/>
<text font-size="9.25" x="284.3" y="78.7">PVA00KC100</text>
<path d="M178.5,71.9L191.4,65.0" stroke="#222" stroke-width="0.7" fill="none"/><path d="M196,62.5L192.3,66.5L190.6,63.4Z" fill="#000"/>
<path d="M170.9,96.2L200.8,79.8" stroke="#222" stroke-width="0.7" fill="none"/><path d="M205.4,77.3L201.7,81.4L200.0,78.2Z" fill="#000"/>
<path d="M182.6,121.2L209.6,105.9" stroke="#222" stroke-width="0.7" fill="none"/><path d="M214.1,103.3L210.5,107.4L208.7,104.3Z" fill="#000"/>
<path d="M114.4,52L89.7,86.3" stroke="#222" stroke-width="0.7" fill="none"/><path d="M86.7,90.5L88.3,85.2L91.2,87.3Z" fill="#000"/>
<path d="M122.6,58L106.5,88.4" stroke="#222" stroke-width="0.7" fill="none"/><path d="M104.1,93.0L104.9,87.6L108.1,89.2Z" fill="#000"/>
<path d="M135.8,65.1L122.3,90.5" stroke="#222" stroke-width="0.7" fill="none"/><path d="M119.9,95.1L120.7,89.7L123.9,91.3Z" fill="#000"/>
<g font-size="12">
<text x="200.2" y="64.4">A</text>
<text x="208.2" y="80.8">B</text>
<text x="215.8" y="106.9">C</text>
<text x="80.6" y="103">D</text>
<text x="98.9" y="104.6">E</text>
<text x="116.1" y="107.2">F</text>
</g>
</svg></body></html>
